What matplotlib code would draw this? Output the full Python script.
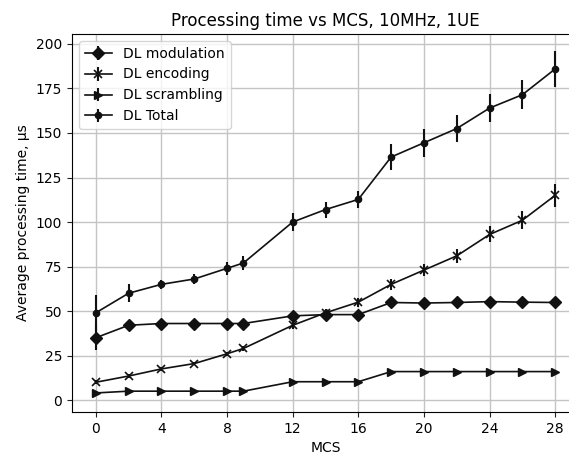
import matplotlib
matplotlib.use("Agg")
import matplotlib.pyplot as plt

mcs = [0, 2, 4, 6, 8, 9, 12, 14, 16, 18, 20, 22, 24, 26, 28]
mod = [35, 42, 43, 43, 43, 43, 47.3, 48, 48, 54.8, 54.5, 54.8, 55.3, 55, 54.8]
mod_err = [7, 2, 1.5, 1.5, 1.5, 1.5, 2, 1.5, 1.5, 2, 1.5, 1.5, 1.5, 1.5, 1.5]
enc = [10, 13.5, 17.5, 20.5, 26, 29, 42, 49, 55, 65, 73, 81, 93, 101, 115]
enc_err = [1, 1, 1, 1, 1, 1.5, 2, 2, 2.5, 3, 3.5, 4, 4.5, 5, 6.5]
scr = [4, 5, 5, 5, 5, 5, 10.3, 10.3, 10.3, 16, 16, 16, 16, 16, 16]
scr_err = [0.5, 0.5, 0.5, 0.5, 0.5, 0.5, 0.5, 0.5, 0.5, 0.5, 0.5, 0.5, 0.5, 0.5, 0.5]
tot = [49, 60, 65, 68, 74, 77, 100, 107, 112.7, 136.5, 144.5, 152.5, 164, 171.5, 186]
tot_err = [10, 5, 2.5, 3, 3.5, 4, 5, 4.5, 5, 7.5, 8, 7.5, 8, 8, 10]

fig = plt.figure(figsize=(5.69, 4.54), dpi=100)
ax = fig.add_axes([72/569, 1-412/454, (579-72)/569, (412-34)/454])

kw = dict(color="#111111", ecolor="#111111", lw=1.2, elinewidth=1.5, capsize=0)
ax.errorbar(mcs, mod, yerr=mod_err, marker="D", ms=6.5, label="DL modulation", **kw)
ax.errorbar(mcs, enc, yerr=enc_err, marker="x", ms=6, mew=1.2, label="DL encoding", **kw)
ax.errorbar(mcs, scr, yerr=scr_err, marker=">", ms=6, label="DL scrambling", **kw)
ax.errorbar(mcs, tot, yerr=tot_err, marker="o", ms=4.5, label="DL Total", **kw)

ax.set_xlim(-1.45, 29.45)
ax.set_ylim(-6.7, 205.6)
ax.set_xticks(list(range(0, 29, 4)))
ax.set_yticks(list(range(0, 201, 25)))
ax.grid(True, color="#c4c4c4", lw=1.0)
ax.set_axisbelow(True)
ax.tick_params(labelsize=10, color="#222222")
ax.set_xlabel("MCS", fontsize=10)
ax.set_ylabel("Average processing time, µs", fontsize=10)
ax.set_title("Processing time vs MCS, 10MHz, 1UE", fontsize=12)
ax.legend(loc="upper left", fontsize=10)

fig.savefig("out.png", dpi=100)
